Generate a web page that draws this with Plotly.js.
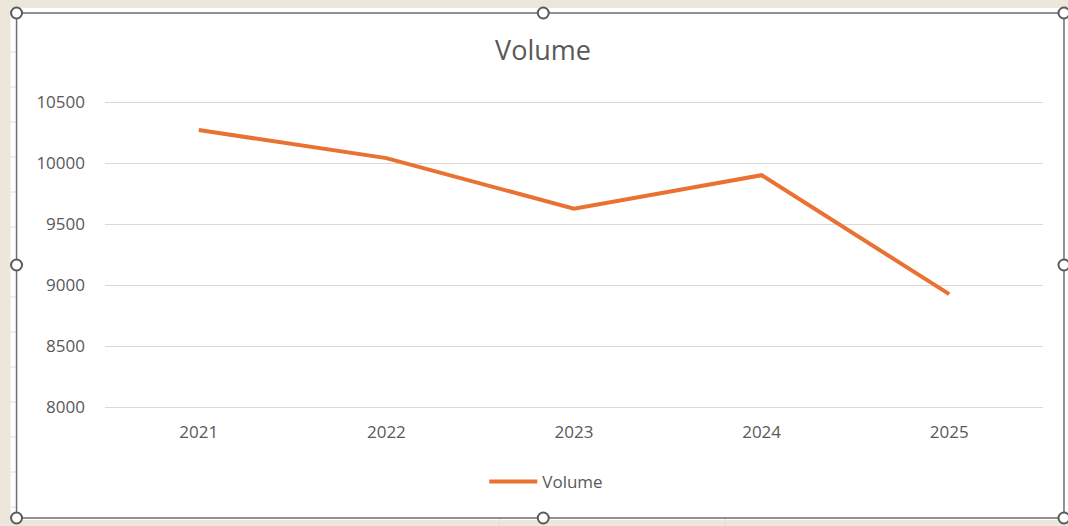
<!DOCTYPE html>
<html><head><meta charset="utf-8">
<script src="https://cdn.plot.ly/plotly-3.0.1.min.js"></script>
<style>html,body{margin:0;padding:0;background:#ece6db;}#c{width:1068px;height:526px;}</style>
</head><body><div id="c"></div>
<script>
const years = ['2021','2022','2023','2024','2025'];
const volume = [10270, 10040, 9625, 9900, 8925];
const yTicks = [8000, 8500, 9000, 9500, 10000, 10500];
const yTickText = ['8000', '8500', '9000', '9500', '10000', '10500'];

const L = 104.5, R = 1043, T = 99, B = 410, W = 1068, H = 526;
const yMin = 7975.4, yMax = 10524.6;
const px = x => (x - L) / (R - L);
const py = y => (B - y) / (B - T);

const shapes = [];
// spreadsheet cell area behind the chart
shapes.push({type:'rect', xref:'paper', yref:'paper', x0:px(10), x1:px(1068), y0:py(520), y1:py(8),
  fillcolor:'#ffffff', line:{width:0}, layer:'below'});
for (let ry = 17; ry < 520; ry += 35) {
  shapes.push({type:'line', xref:'paper', yref:'paper', x0:px(10), x1:px(16), y0:py(ry), y1:py(ry),
    line:{color:'#dedede', width:1}, layer:'below'});
}
[499, 725].forEach(cx => shapes.push({type:'line', xref:'paper', yref:'paper', x0:px(cx), x1:px(cx), y0:py(526), y1:py(518),
  line:{color:'#dedede', width:1}, layer:'below'}));
// chart frame
shapes.push({type:'rect', xref:'paper', yref:'paper', x0:px(16), x1:px(1064), y0:py(518), y1:py(13),
  fillcolor:'#ffffff', line:{color:'#6e6e6e', width:1.5}, layer:'below'});
const handles = [[16,13],[543,13],[1064,13],[16,265],[1064,265],[16,518],[543,518],[1064,518]];
handles.forEach(([hx,hy]) => shapes.push({type:'circle', xref:'paper', yref:'paper',
  x0:px(hx-5.5), x1:px(hx+5.5), y0:py(hy+5.5), y1:py(hy-5.5), fillcolor:'#ffffff', line:{color:'#5a5a5a', width:2}}));

const font = '"Open Sans", sans-serif';
Plotly.newPlot('c', [{
  x: years, y: volume, type:'scatter', mode:'lines', name:'Volume',
  line:{color:'#e97132', width:4}
}], {
  width: W, height: H,
  paper_bgcolor:'#ece6db', plot_bgcolor:'rgba(0,0,0,0)',
  margin:{l:L, r:W-R, t:T, b:H-B, pad:0},
  title:{text:'Volume', x:543/W, xref:'container', xanchor:'center', y:1 - 51/H, yanchor:'middle', font:{family:font, size:27, color:'#595959'}},
  xaxis:{type:'category', range:[-0.5, 4.5], showgrid:false, zeroline:false, showline:false, ticks:'',
    tickfont:{family:font, size:17, color:'#595959'}, ticklabelstandoff:10},
  yaxis:{range:[yMin, yMax], tickvals:yTicks, ticktext:yTickText, showgrid:true, gridcolor:'#d9d9d9', gridwidth:1, zeroline:false,
    showline:false, ticks:'', tickfont:{family:font, size:17, color:'#595959'}, ticklabelstandoff:19},
  showlegend:true,
  legend:{orientation:'h', x:px(546), xanchor:'center', y:py(482), yanchor:'middle', itemwidth:48,
    font:{family:font, size:17, color:'#595959'}, bgcolor:'rgba(0,0,0,0)'},
  shapes: shapes
}, {displayModeBar:false, staticPlot:true});
</script></body></html>
